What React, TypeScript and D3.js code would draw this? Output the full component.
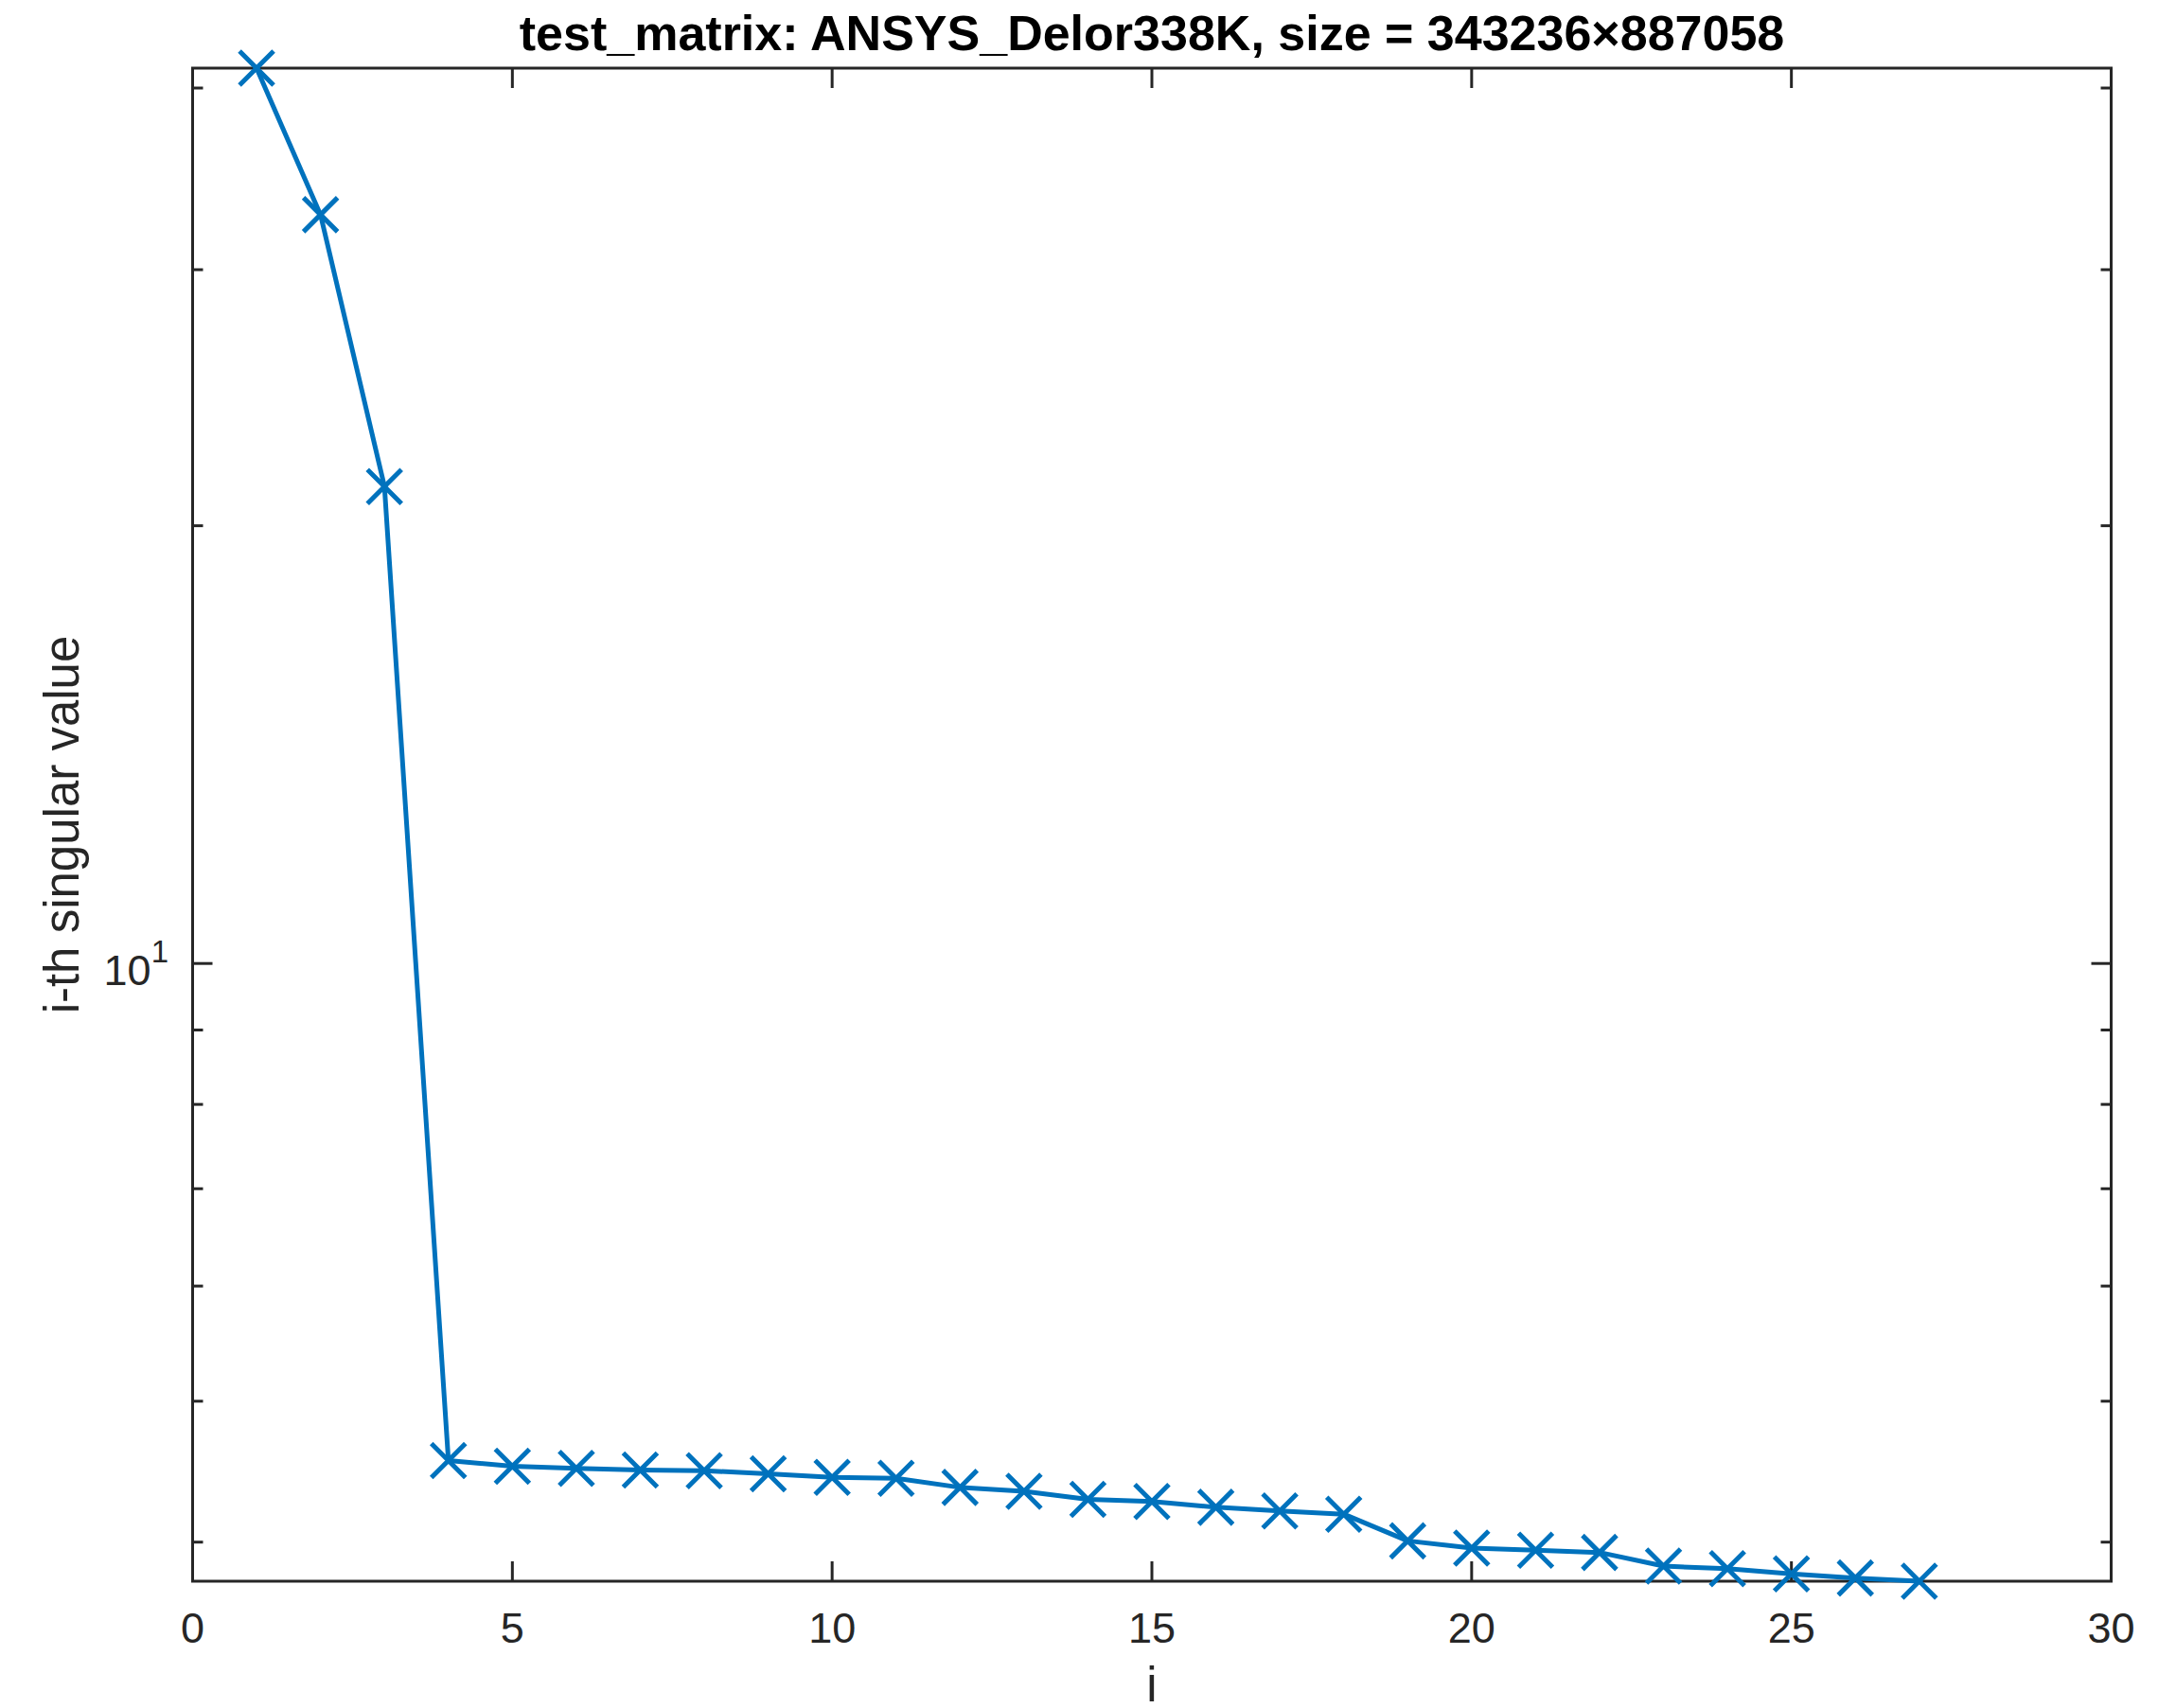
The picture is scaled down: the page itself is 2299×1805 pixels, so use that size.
import React from "react";
import * as d3 from "d3";

// Singular value spectrum of the ANSYS_Delor338K test matrix
const chartTitle = "test_matrix: ANSYS_Delor338K, size = 343236×887058";
const xLabel = "i";
const yLabel = "i-th singular value";

const index = [
  1, 2, 3, 4, 5, 6, 7, 8, 9, 10, 11, 12, 13, 14, 15, 16, 17, 18, 19, 20, 21, 22,
  23, 24, 25, 26, 27,
];
const singularValues = [
  41.28, 32.73, 21.28, 4.551, 4.511, 4.495, 4.484, 4.479, 4.457, 4.432, 4.426,
  4.362, 4.335, 4.28, 4.266, 4.227, 4.202, 4.181, 4.008, 3.962, 3.949, 3.935,
  3.851, 3.835, 3.804, 3.779, 3.76,
];

const xTicks = [0, 5, 10, 15, 20, 25, 30];
const xDomain = [0, 30];
const yMajorTicks = [10];
const yMinorTicks = [4, 5, 6, 7, 8, 9, 20, 30, 40];

const W = 2299;
const H = 1805;
const box = { left: 203.5, right: 2230.5, top: 72, bottom: 1671 };

const AXIS = "#262626";
const BLUE = "#0072BD";
const FONT = "'Liberation Sans', Arial, Helvetica, sans-serif";

export default function App() {
  const x = d3.scaleLinear().domain(xDomain).range([box.left, box.right]);
  const y = d3
    .scaleLog()
    .domain([d3.min(singularValues)!, d3.max(singularValues)!])
    .range([box.bottom, box.top]);

  const pts = index.map((i, k) => [x(i), y(singularValues[k])] as [number, number]);
  const linePath = d3.line()(pts) ?? "";

  const majorLen = 21;
  const minorLen = 11;
  const ms = 18;

  return (
    <div style={{ position: "absolute", left: 0, top: 0 }}>
      <svg width={W} height={H} viewBox={`0 0 ${W} ${H}`} style={{ display: "block", background: "#fff" }}>
        <rect x={0} y={0} width={W} height={H} fill="#fff" />
        {/* axes box and ticks */}
        <g stroke={AXIS} strokeWidth={3} fill="none">
          <rect x={box.left} y={box.top} width={box.right - box.left} height={box.bottom - box.top} />
          {xTicks.map((t) => (
            <g key={"xt" + t}>
              <line x1={x(t)} x2={x(t)} y1={box.bottom} y2={box.bottom - majorLen} />
              <line x1={x(t)} x2={x(t)} y1={box.top} y2={box.top + majorLen} />
            </g>
          ))}
          {yMajorTicks.map((t) => (
            <g key={"ymj" + t}>
              <line x1={box.left} x2={box.left + majorLen} y1={y(t)} y2={y(t)} />
              <line x1={box.right} x2={box.right - majorLen} y1={y(t)} y2={y(t)} />
            </g>
          ))}
          {yMinorTicks.map((t) => (
            <g key={"ymn" + t}>
              <line x1={box.left} x2={box.left + minorLen} y1={y(t)} y2={y(t)} />
              <line x1={box.right} x2={box.right - minorLen} y1={y(t)} y2={y(t)} />
            </g>
          ))}
        </g>

        {/* tick labels */}
        <g fill={AXIS} fontFamily={FONT} fontSize={45}>
          {xTicks.map((t) => (
            <text key={"xl" + t} x={x(t)} y={1736} textAnchor="middle">
              {t}
            </text>
          ))}
          {yMajorTicks.map((t) => (
            <text key={"yl" + t} x={178} y={y(t) + 23} textAnchor="end">
              10
              <tspan fontSize={33} dy={-24}>
                {Math.round(Math.log10(t))}
              </tspan>
            </text>
          ))}
        </g>

        {/* data */}
        <path d={linePath} fill="none" stroke={BLUE} strokeWidth={5} strokeLinejoin="round" />
        <g stroke={BLUE} strokeWidth={5} fill="none">
          {pts.map(([px, py], k) => (
            <path
              key={"m" + k}
              d={`M${px - ms},${py - ms}L${px + ms},${py + ms}M${px - ms},${py + ms}L${px + ms},${py - ms}`}
            />
          ))}
        </g>

        {/* title and axis labels */}
        <text
          x={(box.left + box.right) / 2}
          y={53}
          textAnchor="middle"
          fontFamily={FONT}
          fontWeight="bold"
          fontSize={52}
          fill="#000"
        >
          {chartTitle}
        </text>
        <text
          x={(box.left + box.right) / 2}
          y={1798}
          textAnchor="middle"
          fontFamily={FONT}
          fontSize={51}
          fill={AXIS}
        >
          {xLabel}
        </text>
        <text
          transform={`translate(83,${(box.top + box.bottom) / 2}) rotate(-90)`}
          textAnchor="middle"
          fontFamily={FONT}
          fontSize={51}
          fill={AXIS}
        >
          {yLabel}
        </text>
      </svg>
    </div>
  );
}
